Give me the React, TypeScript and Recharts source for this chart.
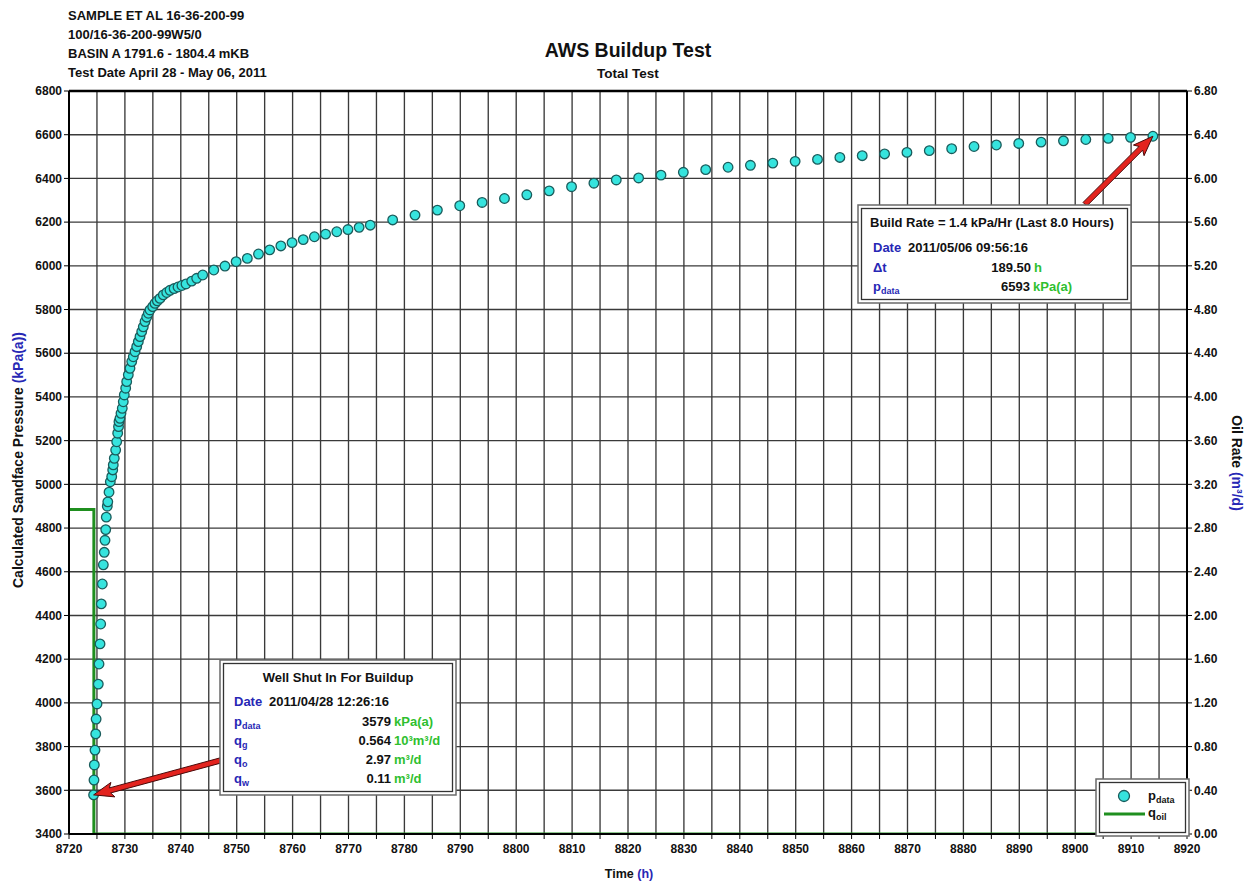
import React from "react";
import {
  ComposedChart,
  Scatter,
  Line,
  XAxis,
  YAxis,
  CartesianGrid,
  ReferenceDot,
  ReferenceLine,
} from "recharts";

// pressure samples (time in h, pressure in kPa(a))
const pTime = [
  8724.4, 8724.47, 8724.53, 8724.65, 8724.78, 8724.85, 8725.01, 8725.24, 8725.37, 8725.55,
  8725.67, 8725.78, 8725.96, 8726.14, 8726.31, 8726.44, 8726.57, 8726.67, 8726.85, 8726.94,
  8727.16, 8727.39, 8727.64, 8727.82, 8727.92, 8728.1, 8728.35, 8728.53, 8728.71, 8728.86,
  8728.94, 8729.12, 8729.3, 8729.53, 8729.71, 8729.89, 8730.14, 8730.32, 8730.61, 8730.91,
  8731.22, 8731.5, 8731.81, 8732.11, 8732.4, 8732.7, 8733.01, 8733.29, 8733.6, 8733.9,
  8734.19, 8734.49, 8734.97, 8735.38, 8735.8, 8736.28, 8736.87, 8737.48, 8738.07, 8738.8,
  8739.5, 8740.2, 8740.93, 8741.95, 8742.84, 8743.92,
  8745.9, 8747.9, 8749.9, 8751.9, 8753.9, 8755.9, 8757.9, 8759.9, 8761.9, 8763.9,
  8765.9, 8767.9, 8769.9, 8771.9, 8773.9,
  8777.9, 8781.9, 8785.9, 8789.9, 8793.9, 8797.9, 8801.9, 8805.9, 8809.9, 8813.9,
  8817.9, 8821.9, 8825.9, 8829.9, 8833.9, 8837.9, 8841.9, 8845.9, 8849.9, 8853.9,
  8857.9, 8861.9, 8865.9, 8869.9, 8873.9, 8877.9, 8881.9, 8885.9, 8889.9, 8893.9,
  8897.9, 8901.9, 8905.9, 8909.9, 8913.9,
];
const pData = [
  3579, 3647, 3716, 3784, 3858, 3926, 3995, 4086, 4178, 4270,
  4361, 4453, 4544, 4632, 4689, 4744, 4793, 4850, 4900, 4920,
  4964, 5012, 5035, 5066, 5089, 5119, 5157, 5195, 5234, 5264,
  5287, 5302, 5325, 5348, 5378, 5409, 5440, 5470, 5501, 5531,
  5562, 5584, 5607, 5630, 5653, 5676, 5699, 5721, 5745, 5765,
  5783, 5798, 5813, 5828, 5840, 5851, 5867, 5878, 5888, 5896,
  5903, 5910, 5917, 5930, 5943, 5958,
  5981, 5999, 6019, 6034, 6054, 6073, 6091, 6106, 6120, 6133,
  6145, 6156, 6166, 6176, 6186,
  6210, 6232, 6255, 6275, 6290, 6308, 6325, 6343, 6362, 6378,
  6393, 6402, 6415, 6428, 6440, 6451, 6460, 6470, 6478, 6487,
  6496, 6504, 6512, 6519, 6527, 6536, 6546, 6553, 6560, 6566,
  6572, 6578, 6583, 6588, 6593,
];

// oil rate (m3/d)
const qTime = [8720, 8724.45, 8920];
const qOil = [2.97, 0, 0];

const timeTicks = [
  8720, 8725, 8730, 8735, 8740, 8745, 8750, 8755, 8760, 8765, 8770, 8775, 8780, 8785,
  8790, 8795, 8800, 8805, 8810, 8815, 8820, 8825, 8830, 8835, 8840, 8845, 8850, 8855,
  8860, 8865, 8870, 8875, 8880, 8885, 8890, 8895, 8900, 8905, 8910, 8915, 8920,
];
const pressureTicks = [
  3400, 3600, 3800, 4000, 4200, 4400, 4600, 4800, 5000, 5200, 5400, 5600, 5800, 6000,
  6200, 6400, 6600, 6800,
];
const rateTicks = [
  0, 0.4, 0.8, 1.2, 1.6, 2, 2.4, 2.8, 3.2, 3.6, 4, 4.4, 4.8, 5.2, 5.6, 6, 6.4, 6.8,
];

const headerLines = [
  "SAMPLE ET AL 16-36-200-99",
  "100/16-36-200-99W5/0",
  "BASIN A 1791.6 - 1804.4 mKB",
  "Test Date April 28 - May 06, 2011",
];

const pressurePoints = pTime.map((t, i) => ({ t, p: pData[i] }));
const oilPoints = qTime.map((t, i) => ({ t, q: qOil[i] }));

const FONT = "'Liberation Sans', Arial, Helvetica, sans-serif";
const BLUE = "#2727b5";
const GREEN = "#2fbf2f";
const TXT = 13;
const tickStyle = { fill: "#111", fontSize: 12, fontWeight: 700, fontFamily: FONT };

const Dot = (props: any) => {
  const { cx, cy } = props;
  if (cx == null || cy == null) return null;
  return <circle cx={cx} cy={cy} r={4.8} fill="#36e4de" stroke="#1a5c5c" strokeWidth={1.3} />;
};

// red arrow whose tip sits on the reference point, tail at (dx, dy) from it
const arrowShape = (dx: number, dy: number) => (props: any) => {
  const { cx, cy } = props;
  if (cx == null || cy == null) return null;
  const tx = cx + dx;
  const ty = cy + dy;
  const len = Math.hypot(dx, dy);
  const ux = -dx / len;
  const uy = -dy / len;
  const px = -uy;
  const py = ux;
  const head = 17;
  const hw = 7.5;
  const sw = 2.6;
  const bx = cx - ux * head;
  const by = cy - uy * head;
  const pts = [
    [tx + px * sw, ty + py * sw],
    [bx + px * sw, by + py * sw],
    [bx + px * hw - ux * 3, by + py * hw - uy * 3],
    [cx, cy],
    [bx - px * hw - ux * 3, by - py * hw - uy * 3],
    [bx - px * sw, by - py * sw],
    [tx - px * sw, ty - py * sw],
  ];
  return (
    <polygon
      points={pts.map((p) => p.join(",")).join(" ")}
      fill="#e3231e"
      stroke="#4a0a0a"
      strokeWidth={1}
    />
  );
};

const Sub = ({ base, sub }: { base: string; sub: string }) => (
  <>
    {base}
    <tspan fontSize={9} dy={3}>
      {sub}
    </tspan>
  </>
);

const Box = ({ x, y, w, h }: { x: number; y: number; w: number; h: number }) => (
  <g>
    <rect x={x} y={y} width={w} height={h} fill="#fff" stroke="#6a6a6a" strokeWidth={1.5} />
    <rect x={x + 3.5} y={y + 3.5} width={w - 7} height={h - 7} fill="none" stroke="#333" strokeWidth={1.3} />
  </g>
);

export default function App() {
  return (
    <div
      style={{
        position: "absolute",
        left: 0,
        top: 0,
        width: 1249,
        height: 886,
        background: "#fff",
        fontFamily: FONT,
      }}
    >
      <ComposedChart
        width={1249}
        height={886}
        margin={{ top: 91, right: 7, bottom: 22, left: 9 }}
      >
        <CartesianGrid stroke="#3a3a3a" strokeWidth={1.35} />
        <XAxis
          dataKey="t"
          type="number"
          domain={[8720, 8920]}
          ticks={timeTicks}
          interval={0}
          height={30}
          tickSize={5}
          tickMargin={5}
          tick={tickStyle}
          tickFormatter={(v: number) => (v % 10 === 0 ? String(v) : "")}
          axisLine={{ stroke: "#000", strokeWidth: 2 }}
          tickLine={{ stroke: "#000" }}
          allowDataOverflow
        />
        <YAxis
          type="number"
          domain={[3400, 6800]}
          ticks={pressureTicks}
          interval={0}
          width={60}
          tickSize={5}
          tickMargin={2}
          tick={tickStyle}
          axisLine={{ stroke: "#000", strokeWidth: 2 }}
          tickLine={{ stroke: "#000" }}
          allowDataOverflow
        />
        <YAxis
          yAxisId="rate"
          orientation="right"
          type="number"
          domain={[0, 6.8]}
          ticks={rateTicks}
          interval={0}
          width={55}
          tickSize={5}
          tickMargin={2}
          tick={tickStyle}
          tickFormatter={(v: number) => v.toFixed(2)}
          axisLine={{ stroke: "#000", strokeWidth: 2 }}
          tickLine={{ stroke: "#000" }}
          allowDataOverflow
        />
        <ReferenceLine y={6800} stroke="#000" strokeWidth={2.5} />
        <Line
          yAxisId="rate"
          data={oilPoints}
          dataKey="q"
          type="stepAfter"
          stroke="#1f8f1f"
          strokeWidth={3}
          dot={false}
          activeDot={false}
          isAnimationActive={false}
        />
        <Scatter
          data={pressurePoints}
          dataKey="p"
          shape={Dot}
          isAnimationActive={false}
        />
        <ReferenceDot x={pTime[pTime.length - 1]} y={pData[pData.length - 1]} shape={arrowShape(-68, 68)} />
        <ReferenceDot x={pTime[0]} y={pData[0]} shape={arrowShape(129, -35)} />
      </ComposedChart>

      <svg
        width={1249}
        height={886}
        style={{ position: "absolute", left: 0, top: 0, pointerEvents: "none" }}
        fontFamily={FONT}
        fontWeight={700}
      >
        {headerLines.map((line, i) => (
          <text key={line} x={68} y={19.5 + i * 19} fontSize={13} fill="#111">
            {line}
          </text>
        ))}
        <text x={628} y={57} textAnchor="middle" fontSize={19.5} fill="#111">
          AWS Buildup Test
        </text>
        <text x={628} y={78} textAnchor="middle" fontSize={13.5} fill="#111">
          Total Test
        </text>

        <text transform="rotate(-90 23 460)" x={23} y={460} textAnchor="middle" fontSize={14} fill="#111">
          Calculated Sandface Pressure <tspan fill={BLUE}>(kPa(a))</tspan>
        </text>
        <text transform="rotate(90 1232 463)" x={1232} y={463} textAnchor="middle" fontSize={14} fill="#111">
          Oil Rate <tspan fill={BLUE}>(m³/d)</tspan>
        </text>
        <text x={629} y={878} textAnchor="middle" fontSize={12.5} fill="#111">
          Time <tspan fill={BLUE}>(h)</tspan>
        </text>

        {/* build rate annotation */}
        <Box x={858} y={205} w={273} h={98} />
        <text x={870} y={227} fontSize={TXT} fill="#111">
          Build Rate = 1.4 kPa/Hr (Last 8.0 Hours)
        </text>
        <text x={873} y={252} fontSize={TXT} fill={BLUE}>Date</text>
        <text x={908} y={252} fontSize={TXT} fill="#111">2011/05/06 09:56:16</text>
        <text x={873} y={272} fontSize={TXT} fill={BLUE}>Δt</text>
        <text x={1031} y={272} fontSize={TXT} fill="#111" textAnchor="end">189.50</text>
        <text x={1034} y={272} fontSize={TXT} fill={GREEN}>h</text>
        <text x={873} y={291} fontSize={TXT} fill={BLUE}>
          <Sub base="p" sub="data" />
        </text>
        <text x={1030} y={291} fontSize={TXT} fill="#111" textAnchor="end">6593</text>
        <text x={1033} y={291} fontSize={TXT} fill={GREEN}>kPa(a)</text>

        {/* shut-in annotation */}
        <Box x={220} y={660} w={236} h={135} />
        <text x={338} y={682} fontSize={TXT} fill="#111" textAnchor="middle">
          Well Shut In For Buildup
        </text>
        <text x={234} y={706} fontSize={TXT} fill={BLUE}>Date</text>
        <text x={269} y={706} fontSize={TXT} fill="#111">2011/04/28 12:26:16</text>
        <text x={234} y={726} fontSize={TXT} fill={BLUE}>
          <Sub base="p" sub="data" />
        </text>
        <text x={391} y={726} fontSize={TXT} fill="#111" textAnchor="end">3579</text>
        <text x={394} y={726} fontSize={TXT} fill={GREEN}>kPa(a)</text>
        <text x={234} y={745} fontSize={TXT} fill={BLUE}>
          <Sub base="q" sub="g" />
        </text>
        <text x={391} y={745} fontSize={TXT} fill="#111" textAnchor="end">0.564</text>
        <text x={394} y={745} fontSize={TXT} fill={GREEN}>10³m³/d</text>
        <text x={234} y={764} fontSize={TXT} fill={BLUE}>
          <Sub base="q" sub="o" />
        </text>
        <text x={391} y={764} fontSize={TXT} fill="#111" textAnchor="end">2.97</text>
        <text x={394} y={764} fontSize={TXT} fill={GREEN}>m³/d</text>
        <text x={234} y={783} fontSize={TXT} fill={BLUE}>
          <Sub base="q" sub="w" />
        </text>
        <text x={391} y={783} fontSize={TXT} fill="#111" textAnchor="end">0.11</text>
        <text x={394} y={783} fontSize={TXT} fill={GREEN}>m³/d</text>

        {/* legend */}
        <Box x={1096} y={779} w={93} h={57} />
        <circle cx={1124} cy={796} r={5.5} fill="#36e4de" stroke="#1a5c5c" strokeWidth={1.3} />
        <text x={1148} y={800} fontSize={TXT} fill="#111">
          <Sub base="p" sub="data" />
        </text>
        <line x1={1104} y1={814} x2={1145} y2={814} stroke="#1f8f1f" strokeWidth={3} />
        <text x={1148} y={817} fontSize={TXT} fill="#111">
          <Sub base="q" sub="oil" />
        </text>
      </svg>
    </div>
  );
}
